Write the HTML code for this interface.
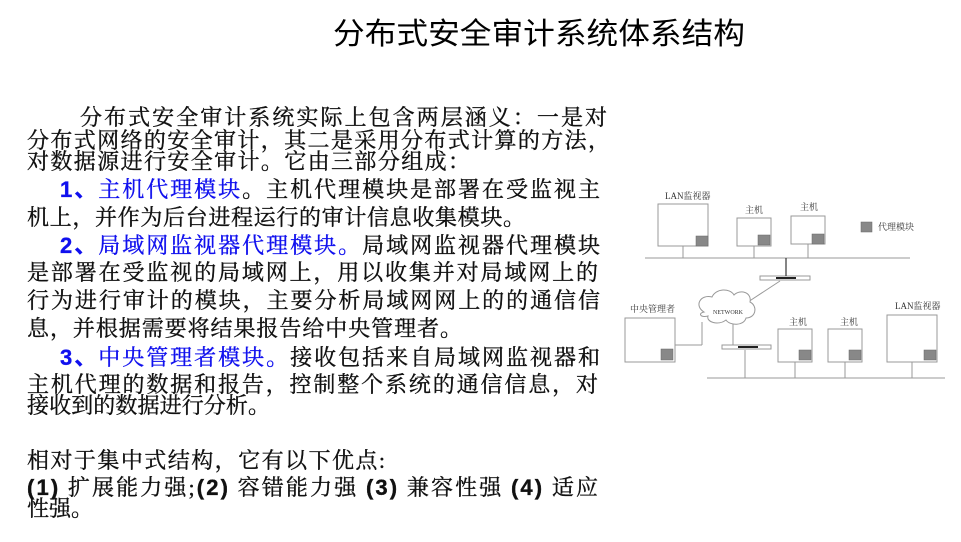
<!DOCTYPE html>
<html><head><meta charset="utf-8"><style>
html,body{margin:0;padding:0;background:#fff;width:961px;height:542px;overflow:hidden}
svg{display:block}
.t{font-family:"Liberation Serif","Noto Serif CJK SC",serif;font-size:22px;fill:#111;stroke:#111;stroke-width:0.35}
.b{font-family:"Liberation Sans","Noto Sans CJK SC",sans-serif;font-weight:bold;fill:#1010ee;stroke:#1010ee}
.bl{fill:#1010ee;stroke:#1010ee}
.s{font-family:"Liberation Sans","Noto Sans CJK SC",sans-serif;font-weight:bold}
.d{font-family:"Liberation Serif","Noto Serif CJK SC",serif;font-size:9px;fill:#333}
</style></head><body>
<svg width="961" height="542" viewBox="0 0 961 542">
<text x="539" y="44" text-anchor="middle" font-family="Liberation Sans,Noto Sans CJK SC,sans-serif" font-size="30" fill="#000" textLength="412" lengthAdjust="spacingAndGlyphs">分布式安全审计系统体系结构</text>

<text class="t" x="80" y="125" textLength="527">分布式安全审计系统实际上包含两层涵义：一是对</text>
<text class="t" x="27" y="148" textLength="583">分布式网络的安全审计，其二是采用分布式计算的方法，</text>
<text class="t" x="27" y="169" textLength="443">对数据源进行安全审计。它由三部分组成：</text>
<text class="t" x="60" y="197" textLength="540"><tspan class="b">1、</tspan><tspan class="bl">主机代理模块</tspan>。主机代理模块是部署在受监视主</text>
<text class="t" x="27" y="225" textLength="498">机上，并作为后台进程运行的审计信息收集模块。</text>
<text class="t" x="60" y="253" textLength="540"><tspan class="b">2、</tspan><tspan class="bl">局域网监视器代理模块。</tspan>局域网监视器代理模块</text>
<text class="t" x="27" y="280" textLength="571">是部署在受监视的局域网上，用以收集并对局域网上的</text>
<text class="t" x="27" y="308" textLength="573">行为进行审计的模块，主要分析局域网网上的的通信信</text>
<text class="t" x="27" y="336" textLength="435">息，并根据需要将结果报告给中央管理者。</text>
<text class="t" x="60" y="365" textLength="540"><tspan class="b">3、</tspan><tspan class="bl">中央管理者模块。</tspan>接收包括来自局域网监视器和</text>
<text class="t" x="27" y="392" textLength="571">主机代理的数据和报告，控制整个系统的通信信息，对</text>
<text class="t" x="27" y="413" textLength="243">接收到的数据进行分析。</text>
<text class="t" x="27" y="468" textLength="358">相对于集中式结构，它有以下优点:</text>
<text class="t" x="27" y="495" textLength="571"><tspan class="s">(1)</tspan> 扩展能力强;<tspan class="s">(2)</tspan> 容错能力强 <tspan class="s">(3)</tspan> 兼容性强 <tspan class="s">(4)</tspan> 适应</text>
<text class="t" x="27" y="516">性强。</text>

<g stroke="#999" stroke-width="1" fill="#fff">
<line x1="645" y1="258" x2="910" y2="258"/>
<line x1="683" y1="246" x2="683" y2="258"/>
<line x1="754" y1="246" x2="754" y2="258"/>
<line x1="808" y1="244" x2="808" y2="258"/>
<rect x="658" y="204" width="50" height="42"/>
<rect x="737" y="218" width="34" height="28"/>
<rect x="791" y="216" width="34" height="28"/>
<line x1="780" y1="281" x2="748" y2="302"/>
<line x1="675" y1="345" x2="702" y2="345"/>
<line x1="702" y1="345" x2="702" y2="322"/>
<line x1="733" y1="323" x2="733" y2="346"/>
<line x1="745" y1="350" x2="745" y2="378"/>
<line x1="707" y1="378" x2="945" y2="378"/>
<line x1="795" y1="362" x2="795" y2="378"/>
<line x1="845" y1="362" x2="845" y2="378"/>
<line x1="912" y1="362" x2="912" y2="378"/>
<rect x="625" y="318" width="50" height="44"/>
<rect x="778" y="329" width="34" height="33"/>
<rect x="828" y="329" width="34" height="33"/>
<rect x="887" y="315" width="50" height="47"/>
<rect x="760" y="276" width="50" height="4"/>
<rect x="722" y="345" width="49" height="4"/>
<path d="M704,312 C694,306 700,294 712,297 C716,288 730,288 734,295 C740,289 752,292 750,302 C758,306 756,318 746,318 C744,326 730,326 726,320 C718,326 706,322 708,316 C700,318 698,313 704,312Z"/>
</g>
<line x1="786" y1="258" x2="786" y2="276" stroke="#333" stroke-width="1.2"/>
<rect x="776" y="277" width="20" height="2" fill="#222"/>
<rect x="738" y="346" width="20" height="2" fill="#222"/>
<g fill="#888" stroke="#666" stroke-width="0.5">
<rect x="696" y="236" width="12" height="10"/>
<rect x="758" y="235" width="12" height="10"/>
<rect x="812" y="234" width="12" height="10"/>
<rect x="861" y="222" width="11" height="10"/>
<rect x="661" y="349" width="12" height="11"/>
<rect x="799" y="350" width="12" height="10"/>
<rect x="849" y="350" width="12" height="10"/>
<rect x="924" y="350" width="12" height="10"/>
</g>
<text class="d" x="665" y="199">LAN监视器</text>
<text class="d" x="745" y="213">主机</text>
<text class="d" x="800" y="210">主机</text>
<text class="d" x="878" y="230">代理模块</text>
<text class="d" x="630" y="312">中央管理者</text>
<text x="728" y="314" font-size="6" text-anchor="middle" font-family="Liberation Serif,serif" fill="#333">NETWORK</text>
<text class="d" x="789" y="325">主机</text>
<text class="d" x="840" y="325">主机</text>
<text class="d" x="895" y="309">LAN监视器</text>
</svg>
</body></html>
